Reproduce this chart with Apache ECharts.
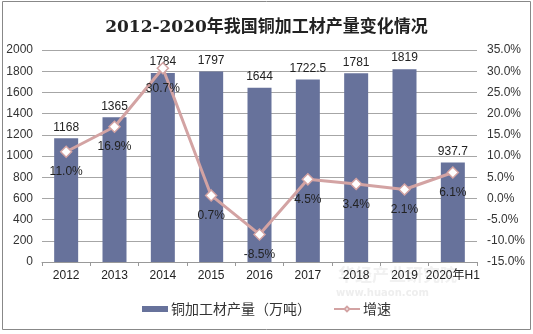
<!DOCTYPE html>
<html>
<head>
<meta charset="utf-8">
<script src="https://cdn.jsdelivr.net/npm/echarts@6/dist/echarts.min.js"></script>
<style>
  html, body { margin: 0; padding: 0; background: #fff; }
  #chart { width: 533px; height: 334px; }
</style>
</head>
<body>
<div id="chart"></div>
<script>
// 铜加工材产量 (万吨) and year-on-year growth (%)
const categories = ['2012', '2013', '2014', '2015', '2016', '2017', '2018', '2019', '2020年H1'];
const output = [1168, 1365, 1784, 1797, 1644, 1722.5, 1781, 1819, 937.7];
const growth = [11.0, 16.9, 30.7, 0.7, -8.5, 4.5, 3.4, 2.1, 6.1];

const barColor = '#67729B';
const lineColor = '#D3A3A3';
const fontFamily = '"Liberation Sans", Arial, "Noto Sans CJK SC", sans-serif';

const chart = echarts.init(document.getElementById('chart'), null, { renderer: 'canvas' });

chart.setOption({
  backgroundColor: '#fff',
  animation: false,
  textStyle: { fontFamily: fontFamily },
  title: {
    text: '2012-2020年我国铜加工材产量变化情况',
    left: 'center',
    top: 14,
    textStyle: {
      fontSize: 17,
      fontWeight: 'bold',
      color: '#222',
      fontFamily: '"DejaVu Serif", "Liberation Serif", "Noto Sans CJK SC", serif'
    }
  },
  graphic: [
    {
      type: 'rect',
      shape: { x: 2.5, y: 1.5, width: 528, height: 328 },
      style: { fill: 'none', stroke: '#888', lineWidth: 1 },
      silent: true,
      z: 0
    },
    {
      type: 'text',
      left: 338, top: 266,
      style: { text: '华经产业研究院', fill: '#f1f1f1', font: 'bold 17px "Noto Sans CJK SC", sans-serif' },
      silent: true, z: -1
    },
    {
      type: 'text',
      left: 336, top: 288,
      style: { text: 'www.huaon.com', fill: '#eeeeee', font: 'bold 10px "DejaVu Sans", sans-serif' },
      silent: true, z: -1
    }
  ],
  legend: {
    bottom: 13,
    left: 'center',
    itemGap: 22,
    itemWidth: 26,
    itemHeight: 6,
    textStyle: { fontSize: 14, color: '#333', padding: [0, 0, 0, -2], fontFamily: '"Noto Sans CJK SC", sans-serif' },
    data: [
      { name: '铜加工材产量（万吨）', icon: 'rect' },
      { name: '增速' }
    ]
  },
  grid: { left: 42, right: 56, top: 50, bottom: 72, containLabel: false },
  xAxis: {
    type: 'category',
    data: categories,
    axisLine: { lineStyle: { color: '#999' } },
    axisTick: { show: true, length: 4, lineStyle: { color: '#999' } },
    axisLabel: { color: '#222', fontSize: 12, margin: 8, interval: 0 }
  },
  yAxis: [
    {
      type: 'value',
      min: 0, max: 2000, interval: 200,
      axisLine: { show: false },
      axisTick: { show: false },
      splitLine: { lineStyle: { color: '#a6a6a6' } },
      axisLabel: { color: '#333', fontSize: 12, margin: 9, formatter: v => String(v) }
    },
    {
      type: 'value',
      min: -15, max: 35, interval: 5,
      axisLine: { show: false },
      axisTick: { show: false },
      splitLine: { show: false },
      axisLabel: {
        color: '#333', fontSize: 12, margin: 10,
        formatter: v => v.toFixed(1) + '%'
      }
    }
  ],
  series: [
    {
      name: '铜加工材产量（万吨）',
      type: 'bar',
      data: output,
      barWidth: 24,
      itemStyle: { color: barColor },
      label: {
        show: true, position: 'top', distance: 5,
        color: '#222', fontSize: 12
      },
      z: 2
    },
    {
      name: '增速',
      type: 'line',
      yAxisIndex: 1,
      data: growth,
      symbol: 'diamond',
      symbolSize: 11,
      lineStyle: { color: lineColor, width: 3 },
      itemStyle: { color: '#fff', borderColor: lineColor, borderWidth: 1.5 },
      label: {
        show: true, position: 'bottom', distance: 8,
        color: '#222', fontSize: 12,
        formatter: p => p.value.toFixed(1) + '%'
      },
      z: 3
    }
  ]
});
</script>
</body>
</html>
